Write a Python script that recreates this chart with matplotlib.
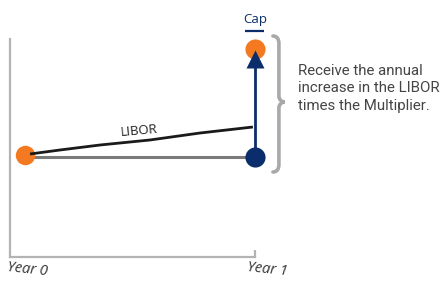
import matplotlib
matplotlib.use("Agg")
import matplotlib.pyplot as plt
from matplotlib.path import Path
from matplotlib.patches import PathPatch

# ---- data ----
years = [0, 1]
start_rate = 2.0          # rate at Year 0 (and floor line)
cap_rate = 4.16           # cap level at Year 1
libor_x = [0.022, 0.152, 0.326, 0.543, 0.761, 0.991]
libor_y = [2.06, 2.14, 2.24, 2.34, 2.48, 2.60]
x_labels = ["Year 0", "Year 1"]
note_text = "Receive the annual\nincrease in the LIBOR\ntimes the Multiplier."

ORANGE = "#F47A21"
NAVY = "#0B2D6B"
LINE_GRAY = "#7A7A7A"
AXIS_GRAY = "#B3B3B3"
BRACE_GRAY = "#A9A9A9"
TEXT_GRAY = "#454545"

fig = plt.figure(figsize=(4.43, 2.85), dpi=100)
ax = fig.add_axes([10/443, 28/285, 245/443, 218/285])
ax.set_xlim(-0.0652, 1.0)
ax.set_ylim(0, 4.36)

for s in ["top", "right"]:
    ax.spines[s].set_visible(False)
for s in ["left", "bottom"]:
    ax.spines[s].set_color(AXIS_GRAY)
    ax.spines[s].set_linewidth(1.6)
ax.set_yticks([])
ax.set_xticks([1])
ax.tick_params(axis="x", direction="in", length=5, width=1.6, color=AXIS_GRAY,
               labelbottom=False)

# flat line from start to Year 1
ax.plot(years, [start_rate, start_rate], color=LINE_GRAY, lw=2.2, zorder=2,
        solid_capstyle="butt", clip_on=False)
# orange start dot
ax.plot([years[0]], [start_rate + 0.04], "o", color=ORANGE, ms=14, mec="none", zorder=3)
# LIBOR path
ax.plot(libor_x, libor_y, color="#1a1a1a", lw=2.0, zorder=4, solid_capstyle="butt",
        clip_on=False)
ax.text(0.495, 2.52, "LIBOR", rotation=5, ha="center", va="center",
        fontsize=9.5, color="#222222", family="Open Sans")

# navy vertical arrow
head_y = cap_rate - 0.2
ax.plot([years[1], years[1]], [start_rate, head_y], color=NAVY, lw=2.0, zorder=5,
        clip_on=False)
ax.plot([years[1]], [start_rate], "o", color=NAVY, ms=14.5, mec="none", zorder=6,
        clip_on=False)
ax.plot([years[1]], [cap_rate], "o", color=ORANGE, ms=14.5, mec="none", zorder=6,
        clip_on=False)
ax.plot([years[1]], [head_y], "^", color=NAVY, ms=13.5, mec="none", zorder=7,
        clip_on=False)

# Cap label with underline
ax.text(years[1], cap_rate + 0.58, "Cap", ha="center", va="center", fontsize=9.5,
        color=NAVY, family="Open Sans", clip_on=False)
ax.plot([years[1] - 0.043, years[1] + 0.04], [cap_rate + 0.37] * 2, color=NAVY,
        lw=1.6, clip_on=False, solid_capstyle="butt")

# brace
bx0, bx1, bx2 = 1.078, 1.104, 1.130
ytop, ybot = cap_rate + 0.26, start_rate - 0.30
ymid = (ytop + ybot) / 2 + 0.04
verts = [
    (bx0, ytop), (bx1 - 0.008, ytop), (bx1, ytop - 0.06), (bx1, ytop - 0.16),
    (bx1, ymid + 0.12),
    (bx1, ymid + 0.04), (bx2 - 0.012, ymid), (bx2, ymid),
    (bx2 - 0.012, ymid), (bx1, ymid - 0.04), (bx1, ymid - 0.12),
    (bx1, ybot + 0.16),
    (bx1, ybot + 0.06), (bx1 - 0.008, ybot), (bx0, ybot),
]
codes = [Path.MOVETO, Path.CURVE4, Path.CURVE4, Path.CURVE4,
         Path.LINETO,
         Path.CURVE4, Path.CURVE4, Path.CURVE4,
         Path.CURVE4, Path.CURVE4, Path.CURVE4,
         Path.LINETO,
         Path.CURVE4, Path.CURVE4, Path.CURVE4]
ax.add_patch(PathPatch(Path(verts, codes), fill=False, ec=BRACE_GRAY, lw=2.6,
                       clip_on=False, capstyle="round"))

# note text
fig.text(298/443, 1 - 64/285, note_text, ha="left", va="top", fontsize=10.8,
         color=TEXT_GRAY, family="Roboto", linespacing=1.3)

# year labels
ax.text(0.01, -0.25, x_labels[0], ha="center", va="center", fontsize=10.5,
        style="italic", rotation=-6, color="#333333", family="Open Sans",
        clip_on=False)
ax.text(1.056, -0.26, x_labels[1], ha="center", va="center", fontsize=10.5,
        style="italic", rotation=-6, color="#333333", family="Open Sans",
        clip_on=False)

fig.savefig("out.png", dpi=100)
